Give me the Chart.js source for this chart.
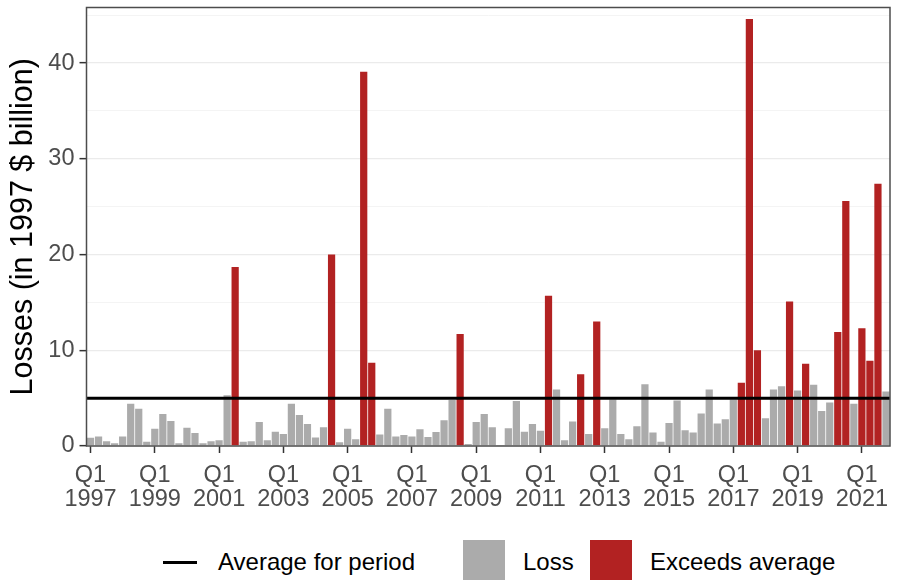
<!DOCTYPE html>
<html><head><meta charset="utf-8">
<script src="https://cdn.jsdelivr.net/npm/chart.js@4.4.1/dist/chart.umd.min.js"></script>
<style>
html,body{margin:0;padding:0;background:#fff;}
#wrap{position:relative;width:903px;height:580px;font-family:"Liberation Sans",Arial,sans-serif;overflow:hidden;}
#cv{position:absolute;left:0;top:0;}
.lt{position:absolute;font-size:24px;color:#000;line-height:26px;height:26px;top:549px;white-space:nowrap;}
.lb{position:absolute;}
</style></head><body>
<div id="wrap">
<canvas id="cv" width="903" height="530" style="width:903px;height:530px"></canvas>
<div class="lb" style="left:163px;top:561px;width:34px;height:3px;background:#000"></div>
<div class="lt" style="left:218px">Average for period</div>
<div class="lb" style="left:463px;top:540px;width:42px;height:40px;background:#ABABAB"></div>
<div class="lt" style="left:523px">Loss</div>
<div class="lb" style="left:590px;top:540px;width:42px;height:40px;background:#B22222"></div>
<div class="lt" style="left:650px">Exceeds average</div>
</div>
<script>
// ---- data ----
const years = [1997,1998,1999,2000,2001,2002,2003,2004,2005,2006,2007,2008,2009,2010,2011,2012,2013,2014,2015,2016,2017,2018,2019,2020,2021];
const quarterNames = ['Q1','Q2','Q3','Q4'];
const tickYears = ['1997','1999','2001','2003','2005','2007','2009','2011','2013','2015','2017','2019','2021'];
const losses = [
  0.85,1.0,0.5,0.3, 1.0,4.4,3.9,0.45, 1.8,3.35,2.6,0.3, 1.9,1.35,0.3,0.5, 0.6,5.3,18.7,0.45,
  0.5,2.5,0.6,1.5, 1.25,4.4,3.25,2.3, 0.9,1.95,20.0,0.4, 1.8,0.7,39.1,8.7, 1.2,3.9,1.0,1.15,
  1.0,1.75,0.95,1.45, 2.7,4.8,11.7,0.2, 2.5,3.35,1.95,0.1, 1.85,4.7,1.5,2.3, 1.6,15.7,5.9,0.6,
  2.55,7.5,1.25,13.0, 1.85,4.85,1.25,0.7, 2.05,6.45,1.4,0.45, 2.4,4.75,1.65,1.4, 3.4,5.9,2.35,2.8,
  4.85,6.6,44.6,10.0, 2.9,5.9,6.25,15.1, 5.8,8.6,6.4,3.65, 4.55,11.9,25.6,4.4, 12.3,8.9,27.4,5.7
];
const exceedsQuarters = ['2001 Q3','2004 Q3','2005 Q3','2005 Q4','2008 Q3','2011 Q2','2012 Q2','2012 Q4',
  '2017 Q2','2017 Q3','2017 Q4','2018 Q4','2019 Q2','2020 Q2','2020 Q3','2021 Q1','2021 Q2','2021 Q3'];
const averageLoss = 5.0;

// ---- build ----
const quarters = [];
years.forEach(y => quarterNames.forEach(q => quarters.push(y + ' ' + q)));
const lossSeries = quarters.map((q,i) => exceedsQuarters.includes(q) ? null : losses[i]);
const exceedSeries = quarters.map((q,i) => exceedsQuarters.includes(q) ? losses[i] : null);

const panelBorder = {
  id:'panelBorder',
  afterDatasetsDraw(chart){
    const a = chart.chartArea, c = chart.ctx;
    c.save(); c.strokeStyle = '#4D4D4D'; c.lineWidth = 1.5;
    c.strokeRect(a.left, a.top, a.right - a.left, a.bottom - a.top);
    c.restore();
  }
};

new Chart(document.getElementById('cv'), {
  type:'bar',
  data:{
    labels: quarters,
    datasets:[
      {type:'line', label:'Average for period', xAxisID:'xAvg',
       data:[{x:-0.5,y:averageLoss},{x:quarters.length-0.5,y:averageLoss}],
       borderColor:'#000', borderWidth:3, pointRadius:0, order:0},
      {label:'Loss', data: lossSeries, backgroundColor:'#ABABAB', grouped:false,
       barPercentage:0.9, categoryPercentage:1, order:1},
      {label:'Exceeds average', data: exceedSeries, backgroundColor:'#B22222', grouped:false,
       barPercentage:0.9, categoryPercentage:1, order:1}
    ]
  },
  options:{
    responsive:false, animation:false,
    layout:{padding:{left:0,right:13,top:7.5,bottom:0}},
    plugins:{legend:{display:false}, tooltip:{enabled:false}},
    scales:{
      x:{
        type:'category', offset:true,
        border:{display:false},
        grid:{drawOnChartArea:false, offset:false, drawTicks:true, tickLength:7, tickWidth:1.5,
              color:'transparent',
              tickColor: ctx => (ctx.index % 8 === 0 ? '#333333' : 'transparent')},
        ticks:{autoSkip:false, maxRotation:0, minRotation:0, padding:10, color:'#4D4D4D',
               font:{family:'"Liberation Sans", Arial, sans-serif', size:23.5, lineHeight:1.05},
               callback:(v,i) => (i % 8 === 0 ? [quarterNames[0], tickYears[i/8]] : '')},
        afterFit: s => { s.height = 84; s.paddingLeft = 0; s.paddingRight = 0; }
      },
      xAvg:{type:'linear', display:false, offset:false, min:-0.5, max:quarters.length-0.5},
      y:{
        min:0, max:45.8,
        border:{display:false},
        afterBuildTicks: s => { s.ticks = [0,5,10,15,20,25,30,35,40,45].map(v => ({value:v})); },
        grid:{color: ctx => (ctx.tick.value % 10 === 0 ? '#EBEBEB' : '#F3F3F3'),
              lineWidth: ctx => (ctx.tick.value % 10 === 0 ? 1.3 : 0.9),
              tickLength:7, tickWidth:1.5,
              tickColor: ctx => (ctx.tick.value % 10 === 0 ? '#333333' : 'transparent')},
        ticks:{padding:5, color:'#4D4D4D', font:{family:'"Liberation Sans", Arial, sans-serif', size:23.5},
               callback: v => (v % 10 === 0 ? String(v) : '')},
        title:{display:true, text:'Losses (in 1997 $ billion)', color:'#000',
               font:{family:'"Liberation Sans", Arial, sans-serif', size:30.5}, padding:{top:5,bottom:0}},
        afterFit: s => { s.width = 86.5; s.paddingTop = 0; s.paddingBottom = 0; }
      }
    }
  },
  plugins:[panelBorder]
});
</script>
</body></html>
